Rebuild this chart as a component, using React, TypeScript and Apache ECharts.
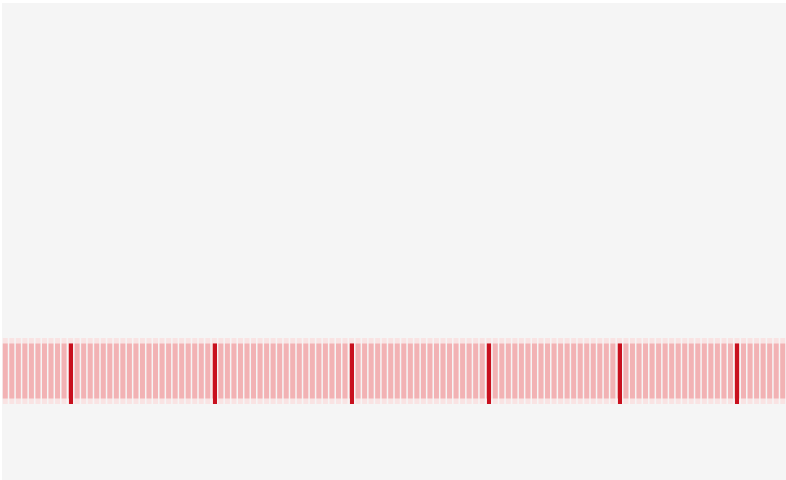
import React, { useEffect, useRef } from "react";
import * as echarts from "echarts";

const categories: string[] = Array.from({ length: 120 }, (_, i) => String(i + 1));
const presence: number[] = [
  1,1,1,1,1,1,1,1,1,1, 1,1,1,1,1,1,1,1,1,1,
  1,1,1,1,1,1,1,1,1,1, 1,1,1,1,1,1,1,1,1,1,
  1,1,1,1,1,1,1,1,1,1, 1,1,1,1,1,1,1,1,1,1,
  1,1,1,1,1,1,1,1,1,1, 1,1,1,1,1,1,1,1,1,1,
  1,1,1,1,1,1,1,1,1,1, 1,1,1,1,1,1,1,1,1,1,
  1,1,1,1,1,1,1,1,1,1, 1,1,1,1,1,1,1,1,1,1,
];
const eventIndices: number[] = [10, 32, 53, 74, 94, 112];
const yRange = { min: -0.1, max: 1.1 };

export default function App() {
  const ref = useRef<HTMLDivElement>(null);
  useEffect(() => {
    if (!ref.current) return;
    const chart = echarts.init(ref.current, null, { renderer: "svg" });
    chart.setOption({
      animation: false,
      backgroundColor: "#f5f5f5",
      grid: { left: 0, right: 0, top: 335, height: 66 },
      xAxis: {
        type: "category",
        data: categories,
        axisLine: { show: false },
        axisTick: { show: false },
        axisLabel: { show: false },
      },
      yAxis: {
        type: "value",
        min: yRange.min,
        max: yRange.max,
        show: false,
      },
      series: [
        {
          type: "bar",
          data: presence,
          barCategoryGap: "24%",
          itemStyle: { color: "#f2b2b4" },
          showBackground: true,
          backgroundStyle: { color: "#f9e3e3" },
          markLine: {
            symbol: "none",
            silent: true,
            label: { show: false },
            lineStyle: { color: "#c8101e", width: 4, type: "solid" },
            data: eventIndices.map((i) => [
              { coord: [categories[i], yRange.min] },
              { coord: [categories[i], 1] },
            ]),
          },
        },
      ],
    });
    return () => chart.dispose();
  }, []);
  return (
    <div
      ref={ref}
      style={{ position: "fixed", left: 2, top: 3, width: 784, height: 477 }}
    />
  );
}
